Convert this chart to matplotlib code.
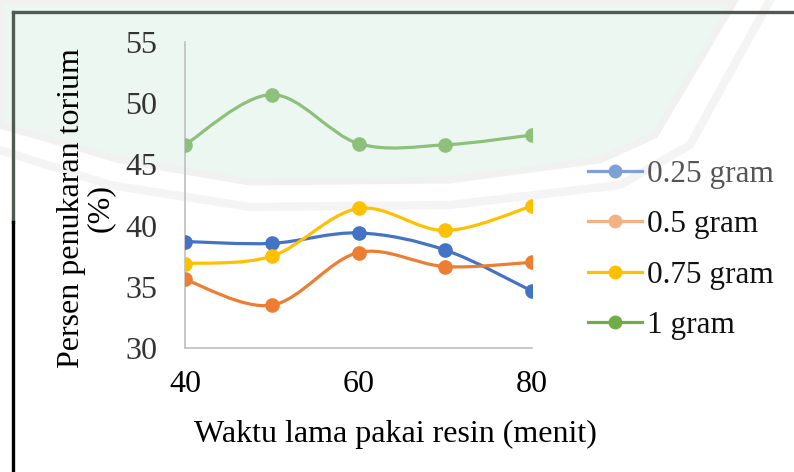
import numpy as np
import matplotlib
matplotlib.use("Agg")
import matplotlib.pyplot as plt
from matplotlib.path import Path
from matplotlib.patches import PathPatch, Polygon
from matplotlib.lines import Line2D

plt.rcParams['font.family'] = ['Liberation Serif', 'DejaVu Serif']

waktu = [40, 50, 60, 70, 80]
series_names = ["0.25 gram", "0.5 gram", "0.75 gram", "1 gram"]
v025 = [38.7, 38.55, 39.4, 38.0, 34.65]
v05 = [35.6, 33.5, 37.8, 36.65, 37.0]
v075 = [36.9, 37.5, 41.4, 39.6, 41.6]
v1 = [46.6, 50.7, 46.7, 46.6, 47.4]
colors = ['#4472C4', '#ED7D31', '#FFC000', '#8DC07A']
legend_colors = ['#7F9FD8', '#F4B183', '#FFC000', '#70AD47']
xticks = [40, 60, 80]
yticks = [30, 35, 40, 45, 50, 55]

W, H = 794, 472
fig = plt.figure(figsize=(W / 100, H / 100), dpi=100)
fig.patch.set_facecolor('white')


def fx(px):
    return px / W


def fy(py):
    return 1 - py / H


# faint watermark tint (background decoration)
tint_px = [(0, 0), (735, 0), (655, 135), (600, 160), (450, 180), (250, 182), (120, 160), (0, 125)]
tint = Polygon([(fx(x), fy(y)) for x, y in tint_px], closed=True, transform=fig.transFigure,
               facecolor='#EDF7F1', edgecolor='#F1F1F1', linewidth=5, zorder=-10)
fig.add_artist(tint)
ring_px = [(770, 0), (690, 145), (620, 185), (450, 205), (250, 207), (110, 185), (0, 150)]
fig.add_artist(Line2D([fx(x) for x, y in ring_px], [fy(y) for x, y in ring_px],
                      transform=fig.transFigure, color='#F4F4F4', linewidth=6, zorder=-10))

ax = fig.add_axes([fx(185), fy(348), (532 - 185) / W, (348 - 42) / H])
ax.set_facecolor('none')


def smooth_path(xs, ys):
    pts = np.column_stack([xs, ys]).astype(float)
    n = len(pts)
    verts = [pts[0]]
    codes = [Path.MOVETO]
    for i in range(n - 1):
        p_prev = pts[i - 1] if i > 0 else pts[i]
        p_next2 = pts[i + 2] if i + 2 < n else pts[i + 1]
        c1 = pts[i] + (pts[i + 1] - p_prev) / 6.0
        c2 = pts[i + 1] - (p_next2 - pts[i]) / 6.0
        verts += [c1, c2, pts[i + 1]]
        codes += [Path.CURVE4] * 3
    return Path(verts, codes)


all_vals = [v025, v05, v075, v1]
for vals, c in zip(all_vals, colors):
    patch = PathPatch(smooth_path(waktu, vals), facecolor='none', edgecolor=c,
                      linewidth=2.3, transform=ax.transData, zorder=2, capstyle='round')
    ax.add_patch(patch)
    ax.plot(waktu, vals, linestyle='none', marker='o', markersize=9.5, color=c, zorder=3)

ax.set_xlim(40, 80)
ax.set_ylim(30, 55)
ax.set_xticks(xticks)
ax.set_yticks(yticks)
ax.tick_params(axis='both', length=0, labelsize=23)
ax.tick_params(axis='y', pad=20)
ax.tick_params(axis='x', pad=16)
for lbl in ax.get_yticklabels():
    lbl.set_color('#333333')
for s in ['top', 'right']:
    ax.spines[s].set_visible(False)
for s in ['left', 'bottom']:
    ax.spines[s].set_color('#BFBFBF')
    ax.spines[s].set_linewidth(1.2)

fig.text(fx(395), fy(434), "Waktu lama pakai resin (menit)", ha='center', va='center', fontsize=23)
fig.text(fx(86), fy(208), "Persen penukaran torium\n(%)", ha='center', va='center',
         rotation=90, fontsize=23, linespacing=1.0)

handles = [Line2D([], [], color=c, marker='o', markersize=9, linewidth=2.3) for c in legend_colors]
leg = fig.legend(handles, series_names, loc='upper left', bbox_to_anchor=(fx(588), fy(160)),
                 frameon=False, fontsize=22.5, handlelength=1.74, handletextpad=0.16,
                 labelspacing=0.68, borderaxespad=0, borderpad=0)
for t, c in zip(leg.get_texts(), ['#555555', '#111111', '#111111', '#111111']):
    t.set_color(c)

# outer frame
fig.add_artist(Line2D([fx(13), 1.0], [fy(12), fy(12)], transform=fig.transFigure,
                      color='#4F5A53', linewidth=2.4))
fig.add_artist(Line2D([fx(13), fx(13)], [fy(12), fy(222)], transform=fig.transFigure,
                      color='#4F5A53', linewidth=2.4))
fig.add_artist(Line2D([fx(13), fx(13)], [fy(222), 0.0], transform=fig.transFigure,
                      color='black', linewidth=2.4))

fig.savefig("out.png", dpi=100)
